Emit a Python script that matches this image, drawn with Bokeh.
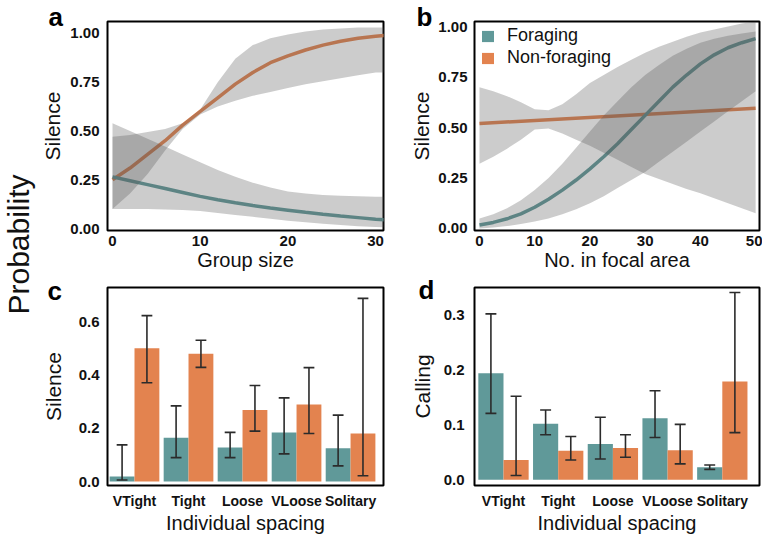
import numpy as np
from bokeh.plotting import figure
from bokeh.models import (Range1d, FixedTicker, NumeralTickFormatter, Label, Title,
                          Legend, LegendItem)
from bokeh.layouts import row, column
from bokeh.embed import file_html
from bokeh.resources import INLINE

# ---------------- data ----------------
# panel a : silence vs group size
group_size = [0, 2, 4, 6, 8, 10, 12, 14, 16, 18, 20, 22, 24, 26, 28, 30, 31]
a_forag    = [0.265, 0.245, 0.225, 0.205, 0.185, 0.165, 0.148, 0.132, 0.118, 0.105, 0.094, 0.083, 0.073, 0.064, 0.056, 0.048, 0.045]
a_forag_hi = [0.54, 0.50, 0.46, 0.42, 0.38, 0.34, 0.30, 0.265, 0.235, 0.21, 0.19, 0.18, 0.172, 0.168, 0.165, 0.163, 0.163]
a_forag_lo = [0.10, 0.10, 0.10, 0.098, 0.095, 0.09, 0.08, 0.07, 0.06, 0.05, 0.04, 0.032, 0.025, 0.018, 0.012, 0.008, 0.006]
a_nonf     = [0.25, 0.31, 0.38, 0.45, 0.53, 0.60, 0.67, 0.74, 0.80, 0.85, 0.885, 0.915, 0.94, 0.96, 0.975, 0.985, 0.99]
a_nonf_hi  = [0.47, 0.48, 0.495, 0.51, 0.54, 0.61, 0.75, 0.87, 0.94, 0.975, 0.995, 1.01, 1.02, 1.025, 1.03, 1.03, 1.03]
a_nonf_lo  = [0.10, 0.18, 0.28, 0.40, 0.51, 0.585, 0.625, 0.655, 0.68, 0.70, 0.72, 0.74, 0.755, 0.77, 0.785, 0.80, 0.80]

# panel b : silence vs number in focal area
focal_n    = [0, 2.5, 5, 7.5, 10, 12.5, 15, 17.5, 20, 22.5, 25, 27.5, 30, 32.5, 35, 37.5, 40, 42.5, 45, 47.5, 50]
b_forag    = [0.017, 0.03, 0.048, 0.072, 0.105, 0.145, 0.19, 0.24, 0.295, 0.355, 0.42, 0.49, 0.56, 0.63, 0.70, 0.76, 0.815, 0.86, 0.895, 0.92, 0.94]
b_forag_hi = [0.05, 0.07, 0.10, 0.14, 0.19, 0.25, 0.32, 0.40, 0.48, 0.56, 0.63, 0.70, 0.76, 0.81, 0.855, 0.89, 0.92, 0.94, 0.955, 0.965, 0.975]
b_forag_lo = [0.0, 0.005, 0.012, 0.022, 0.035, 0.05, 0.07, 0.095, 0.125, 0.16, 0.20, 0.24, 0.28, 0.33, 0.38, 0.43, 0.48, 0.53, 0.58, 0.63, 0.68]
b_nonf_x   = [0, 50]
b_nonf     = [0.52, 0.595]
b_nonf_hi  = [0.70, 0.68, 0.655, 0.625, 0.59, 0.585, 0.615, 0.665, 0.72, 0.76, 0.80, 0.835, 0.87, 0.90, 0.925, 0.95, 0.97, 0.985, 1.0, 1.015, 1.025]
b_nonf_lo  = [0.32, 0.355, 0.395, 0.44, 0.49, 0.495, 0.47, 0.44, 0.41, 0.375, 0.34, 0.305, 0.27, 0.245, 0.22, 0.195, 0.175, 0.15, 0.125, 0.10, 0.075]

# panels c, d : bars by individual spacing
spacing = ["VTight", "Tight", "Loose", "VLoose", "Solitary"]
c_forag    = [0.019, 0.165, 0.128, 0.185, 0.125]
c_forag_lo = [0.006, 0.09, 0.09, 0.104, 0.059]
c_forag_hi = [0.138, 0.285, 0.185, 0.315, 0.25]
c_nonf     = [0.502, 0.481, 0.269, 0.29, 0.181]
c_nonf_lo  = [0.372, 0.43, 0.19, 0.181, 0.022]
c_nonf_hi  = [0.625, 0.532, 0.362, 0.429, 0.69]

d_forag    = [0.194, 0.102, 0.065, 0.112, 0.023]
d_forag_lo = [0.121, 0.082, 0.038, 0.077, 0.019]
d_forag_hi = [0.302, 0.127, 0.114, 0.162, 0.027]
d_nonf     = [0.036, 0.053, 0.058, 0.054, 0.179]
d_nonf_lo  = [0.008, 0.036, 0.041, 0.029, 0.086]
d_nonf_hi  = [0.152, 0.079, 0.082, 0.101, 0.341]

# ---------------- style ----------------
TEAL = "#609999"
ORANGE = "#e3834f"
BAND = "#555555"
BAND_ALPHA = 0.3
ERR = "#2b2b2b"
FONT = "Liberation Sans"
TXT = "#111111"


def make_fig(width, height, xr, yr, bl, br, bt, bb):
    p = figure(width=width, height=height, x_range=Range1d(*xr), y_range=Range1d(*yr),
               toolbar_location=None, output_backend="svg",
               min_border_left=bl, min_border_right=br, min_border_top=bt, min_border_bottom=bb)
    p.outline_line_color = "black"
    p.outline_line_width = 2
    p.outline_line_alpha = 1
    p.xgrid.visible = False
    p.ygrid.visible = False
    p.background_fill_color = "white"
    p.border_fill_color = "white"
    for ax in p.axis:
        ax.axis_line_color = None
        ax.major_tick_line_color = None
        ax.minor_tick_line_color = None
        ax.major_tick_out = 0
        ax.major_tick_in = 0
        ax.minor_tick_out = 0
        ax.minor_tick_in = 0
        ax.major_label_text_font = FONT
        ax.major_label_text_font_style = "bold"
        ax.major_label_text_font_size = "15px"
        ax.major_label_text_color = TXT
        ax.axis_label_text_font = FONT
        ax.axis_label_text_font_style = "normal"
        ax.axis_label_text_color = TXT
    p.xaxis.axis_label_text_font_size = "20px"
    p.yaxis.axis_label_text_font_size = "21px"
    p.xaxis.major_label_standoff = 5
    p.xaxis.axis_label_standoff = 0
    return p


def panel_letter(p, letter, dx, standoff):
    p.add_layout(Title(text=letter, align="left", offset=dx, vertical_align="bottom",
                       standoff=standoff, text_font=FONT, text_font_style="bold",
                       text_font_size="26px", text_color="black"), "above")


# ---------------- panel a ----------------
pa = make_fig(352, 275, (-0.57, 30.9), (-0.01, 1.061), 69, 7, 21, 45)
pa.line(group_size, a_nonf, line_color=ORANGE, line_width=3.5)
pa.line(group_size, a_forag, line_color=TEAL, line_width=3.5)
pa.varea(x=group_size, y1=a_nonf_lo, y2=a_nonf_hi, fill_color=BAND, fill_alpha=BAND_ALPHA)
pa.varea(x=group_size, y1=a_forag_lo, y2=a_forag_hi, fill_color=BAND, fill_alpha=BAND_ALPHA)
pa.xaxis.ticker = FixedTicker(ticks=[0, 10, 20, 30])
pa.yaxis.ticker = FixedTicker(ticks=[0, 0.25, 0.5, 0.75, 1.0])
pa.yaxis.formatter = NumeralTickFormatter(format="0.00")
pa.xaxis.axis_label = "Group size"
pa.yaxis.axis_label = "Silence"
pa.yaxis.major_label_standoff = 8
pa.yaxis.axis_label_standoff = 3
panel_letter(pa, "a", -59, -20)

# ---------------- panel b ----------------
pb = make_fig(372, 275, (-0.9, 50.7), (-0.01, 1.025), 84, 3, 21, 45)
pb.line(b_nonf_x, b_nonf, line_color=ORANGE, line_width=3.5)
pb.line(focal_n, b_forag, line_color=TEAL, line_width=3.5)
pb.varea(x=focal_n, y1=b_nonf_lo, y2=b_nonf_hi, fill_color=BAND, fill_alpha=BAND_ALPHA)
pb.varea(x=focal_n, y1=b_forag_lo, y2=b_forag_hi, fill_color=BAND, fill_alpha=BAND_ALPHA)
pb.xaxis.ticker = FixedTicker(ticks=[0, 10, 20, 30, 40, 50])
pb.yaxis.ticker = FixedTicker(ticks=[0, 0.25, 0.5, 0.75, 1.0])
pb.yaxis.formatter = NumeralTickFormatter(format="0.00")
pb.xaxis.axis_label = "No. in focal area"
pb.yaxis.axis_label = "Silence"
pb.yaxis.major_label_standoff = 7
pb.yaxis.axis_label_standoff = 2
panel_letter(pb, "b", -58, -20)

leg_f = pb.rect(x=[np.nan], y=[np.nan], width=1, height=1, fill_color=TEAL, line_color=None)
leg_n = pb.rect(x=[np.nan], y=[np.nan], width=1, height=1, fill_color=ORANGE, line_color=None)
legend = Legend(items=[LegendItem(label="Foraging", renderers=[leg_f]),
                       LegendItem(label="Non-foraging", renderers=[leg_n])],
                location=(6, 162), margin=0, padding=0, spacing=1,
                glyph_width=15, glyph_height=14, label_height=14, label_standoff=12,
                label_text_font=FONT, label_text_font_size="18px", label_text_color=TXT,
                background_fill_alpha=0, border_line_alpha=0)
pb.add_layout(legend)


# ---------------- bar panels ----------------
def bar_panel(width, xr, yr, bl, br, bt, bb, forag, flo, fhi, nonf, nlo, nhi, ylab, yticks):
    p = make_fig(width, 261, xr, yr, bl, br, bt, bb)
    idx = np.arange(len(spacing))
    for off, vals, lo, hi, col in [(-0.23, forag, flo, fhi, TEAL), (0.23, nonf, nlo, nhi, ORANGE)]:
        xs = idx + off
        p.vbar(x=xs, top=vals, width=0.46, bottom=0, fill_color=col, line_color=None)
        p.segment(x0=xs, y0=lo, x1=xs, y1=hi, line_color=ERR, line_width=1.6)
        p.segment(x0=xs - 0.1, y0=hi, x1=xs + 0.1, y1=hi, line_color=ERR, line_width=1.6)
        p.segment(x0=xs - 0.1, y0=lo, x1=xs + 0.1, y1=lo, line_color=ERR, line_width=1.6)
    p.xaxis.ticker = FixedTicker(ticks=list(range(len(spacing))))
    p.xaxis.major_label_overrides = {i: s for i, s in enumerate(spacing)}
    p.xaxis.major_label_text_font_size = "14px"
    p.yaxis.ticker = FixedTicker(ticks=yticks)
    p.yaxis.formatter = NumeralTickFormatter(format="0.0")
    p.xaxis.axis_label = "Individual spacing"
    p.yaxis.axis_label = ylab
    p.xaxis.major_label_standoff = 7
    return p


pc = bar_panel(352, (-0.5, 4.61), (-0.015, 0.731), 69, 7, 11, 51,
               c_forag, c_forag_lo, c_forag_hi, c_nonf, c_nonf_lo, c_nonf_hi,
               "Silence", [0, 0.2, 0.4, 0.6])
pc.yaxis.major_label_standoff = 8
pc.yaxis.axis_label_standoff = 11
panel_letter(pc, "c", -60, -36)

pd_ = bar_panel(372, (-0.53, 4.68), (-0.0103, 0.35), 84, 3, 12, 51,
                d_forag, d_forag_lo, d_forag_hi, d_nonf, d_nonf_lo, d_nonf_hi,
                "Calling", [0, 0.1, 0.2, 0.3])
pd_.yaxis.major_label_standoff = 10
pd_.yaxis.axis_label_standoff = 7
panel_letter(pd_, "d", -56, -34)

# ---------------- left strip with "Probability" ----------------
strip = figure(width=38, height=536, x_range=Range1d(0, 38), y_range=Range1d(0, 536),
               toolbar_location=None, output_backend="svg", min_border=0,
               x_axis_type=None, y_axis_type=None)
strip.outline_line_color = None
strip.xgrid.visible = False
strip.ygrid.visible = False
strip.add_layout(Label(x=18, y=292, text="Probability", angle=90, angle_units="deg",
                       text_align="center", text_baseline="middle", text_font=FONT,
                       text_font_size="30px", text_color=TXT))

layout = row(strip, column(row(pa, pb), row(pc, pd_)))

open("out.html", "w").write(file_html(layout, INLINE))
